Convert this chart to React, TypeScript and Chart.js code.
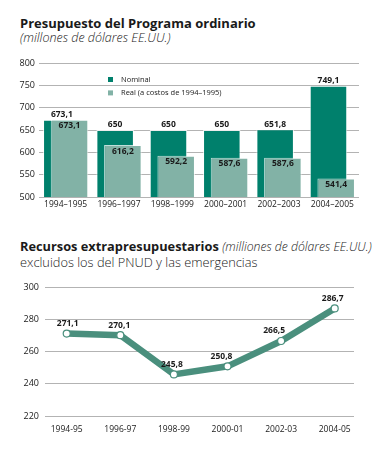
import React, { useEffect, useRef } from "react";
import { Chart, registerables } from "chart.js";

Chart.register(...registerables);

// ---- Data: Presupuesto del Programa ordinario ----
const budgetPeriods = ["1994–1995", "1996–1997", "1998–1999", "2000–2001", "2002–2003", "2004–2005"];
const nominalValues = [673.1, 650, 650, 650, 651.8, 749.1];
const realValues = [673.1, 616.2, 592.2, 587.6, 587.6, 541.4];
const budgetTickLabels = [500, 550, 600, 650, 700, 750, 800];
const budgetSeriesNames = ["Nominal", "Real (a costos de 1994–1995)"];

// ---- Data: Recursos extrapresupuestarios ----
const extraPeriods = ["1994-95", "1996-97", "1998-99", "2000-01", "2002-03", "2004-05"];
const extraValues = [271.1, 270.1, 245.8, 250.8, 266.5, 286.7];
const extraTickLabels = [220, 240, 260, 280, 300];

const FONT = "'Open Sans', 'Noto Sans', 'DejaVu Sans', sans-serif";
const NOMINAL = "#00806c";
const REAL = "#82b2a6";
const LINE = "#4a8f7d";
const GRID = "#b3b3b3";
const TEXT = "#1a1a1a";

const fmt = (v: number) => String(v).replace(".", ",");

// Draw the "Real" bars after (on top of) the "Nominal" bars, clipped to the plot area
const realOnTopPlugin = {
  id: "realOnTop",
  beforeDatasetDraw(_chart: any, args: any) {
    if (args.index === 1) return false;
  },
  afterDatasetsDraw(chart: any) {
    const ctx = chart.ctx;
    const a = chart.chartArea;
    ctx.save();
    ctx.beginPath();
    ctx.rect(a.left, a.top, a.right - a.left, a.bottom - a.top);
    ctx.clip();
    chart.getDatasetMeta(1).data.forEach((el: any) => el.draw(ctx));
    ctx.restore();
  },
};

const barLabelPlugin = {
  id: "barLabels",
  afterDatasetsDraw(chart: any) {
    const ctx = chart.ctx;
    ctx.save();
    ctx.font = `bold 8.5px ${FONT}`;
    ctx.fillStyle = TEXT;
    ctx.textAlign = "center";
    ctx.textBaseline = "middle";
    chart.data.datasets.forEach((ds: any, di: number) => {
      const meta = chart.getDatasetMeta(di);
      meta.data.forEach((bar: any, i: number) => {
        const y = di === 0 ? bar.y - 5 : bar.y + 6;
        ctx.fillText(fmt(ds.data[i]), bar.x, y);
      });
    });
    ctx.restore();
  },
};

const insideLegendPlugin = {
  id: "insideLegend",
  afterDatasetsDraw(chart: any) {
    const ctx = chart.ctx;
    const { left, top } = chart.chartArea;
    ctx.save();
    ctx.font = `7.5px ${FONT}`;
    ctx.textAlign = "left";
    ctx.textBaseline = "middle";
    chart.data.datasets.forEach((ds: any, di: number) => {
      const cy = top + 16.5 + di * 13.4;
      ctx.fillStyle = ds.backgroundColor;
      ctx.fillRect(left + 69, cy - 2.5, 5, 5);
      ctx.fillStyle = TEXT;
      ctx.fillText(ds.label, left + 82, cy);
    });
    ctx.restore();
  },
};

const lineLabelDx = [1, -1, -2, -6, -7, -2];
const lineLabelPlugin = {
  id: "lineLabels",
  afterDatasetsDraw(chart: any) {
    const ctx = chart.ctx;
    ctx.save();
    ctx.font = `bold 8.5px ${FONT}`;
    ctx.fillStyle = TEXT;
    ctx.textAlign = "center";
    ctx.textBaseline = "middle";
    const meta = chart.getDatasetMeta(0);
    meta.data.forEach((pt: any, i: number) => {
      ctx.fillText(fmt(extraValues[i]), pt.x + lineLabelDx[i], pt.y - 10);
    });
    ctx.restore();
  },
};

function BudgetChart() {
  const ref = useRef<HTMLCanvasElement | null>(null);
  useEffect(() => {
    if (!ref.current) return;
    const chart = new Chart(ref.current, {
      type: "bar",
      data: {
        labels: budgetPeriods,
        datasets: [
          {
            label: budgetSeriesNames[0],
            data: nominalValues,
            backgroundColor: NOMINAL,
            borderColor: "rgba(255,255,255,0.75)",
            borderWidth: 1,
          },
          {
            label: budgetSeriesNames[1],
            data: realValues,
            backgroundColor: REAL,
            borderColor: "rgba(255,255,255,0.75)",
            borderWidth: 1,
          },
        ],
      },
      options: {
        responsive: false,
        animation: false,
        layout: { padding: { left: 0, right: 13, top: 13, bottom: 0 } },
        datasets: { bar: { categoryPercentage: 0.289, barPercentage: 4.87 } } as any,
        plugins: { legend: { display: false }, tooltip: { enabled: false } },
        scales: {
          x: {
            grid: { display: false, drawTicks: false },
            border: { display: false },
            ticks: {
              font: { family: FONT, size: 8.5 },
              color: TEXT,
              padding: 2,
              maxRotation: 0,
              autoSkip: false,
            },
            afterFit: (s: any) => {
              s.height = 14;
            },
          },
          y: {
            min: 500,
            max: 800,
            ticks: {
              stepSize: 25,
              callback: (v: any) => (budgetTickLabels.includes(Number(v)) ? String(v) : ""),
              font: { family: FONT, size: 9 },
              color: TEXT,
              padding: 4,
            },
            grid: { color: GRID, lineWidth: 1, drawTicks: false },
            border: { display: false },
            afterFit: (s: any) => {
              s.width = 39;
            },
          },
        },
      },
      plugins: [realOnTopPlugin, barLabelPlugin, insideLegendPlugin],
    } as any);
    return () => chart.destroy();
  }, []);
  return (
    <canvas
      ref={ref}
      width={372}
      height={161}
      style={{ position: "absolute", left: 0, top: 50, width: 372, height: 161 }}
    />
  );
}

function ExtraChart() {
  const ref = useRef<HTMLCanvasElement | null>(null);
  useEffect(() => {
    if (!ref.current) return;
    const chart = new Chart(ref.current, {
      type: "line",
      data: {
        datasets: [
          {
            label: "Recursos extrapresupuestarios",
            data: extraValues.map((v, i) => ({ x: i, y: v })),
            borderColor: LINE,
            borderWidth: 6.5,
            pointRadius: 3.5,
            pointBackgroundColor: "#ffffff",
            pointBorderColor: LINE,
            pointBorderWidth: 1.2,
            tension: 0,
            fill: false,
          },
        ],
      },
      options: {
        responsive: false,
        animation: false,
        layout: { padding: { left: 0, right: 18, top: 17, bottom: 0 } },
        plugins: { legend: { display: false }, tooltip: { enabled: false } },
        scales: {
          x: {
            type: "linear",
            min: -0.405,
            max: 5.36,
            afterBuildTicks: (s: any) => {
              s.ticks = extraPeriods.map((_, i) => ({ value: i }));
            },
            ticks: {
              callback: (v: any) => extraPeriods[Math.round(Number(v))] ?? "",
              font: { family: FONT, size: 8.5 },
              color: TEXT,
              padding: 8,
              maxRotation: 0,
              autoSkip: false,
            },
            grid: { display: false, drawTicks: false },
            border: { display: false },
            afterFit: (s: any) => {
              s.height = 20;
            },
          },
          y: {
            min: 220,
            max: 300,
            afterBuildTicks: (s: any) => {
              s.ticks = extraTickLabels.map((v) => ({ value: v }));
            },
            ticks: {
              font: { family: FONT, size: 9 },
              color: TEXT,
              padding: 6,
            },
            grid: { color: GRID, lineWidth: 1, drawTicks: false },
            border: { display: false },
            afterFit: (s: any) => {
              s.width = 45;
            },
          },
        },
      },
      plugins: [lineLabelPlugin],
    } as any);
    return () => chart.destroy();
  }, []);
  return (
    <canvas
      ref={ref}
      width={372}
      height={166}
      style={{ position: "absolute", left: 0, top: 270, width: 372, height: 166 }}
    />
  );
}

const textBase: React.CSSProperties = {
  position: "absolute",
  left: 20,
  margin: 0,
  whiteSpace: "nowrap",
  fontFamily: FONT,
  color: TEXT,
  lineHeight: 1,
};

export default function App() {
  useEffect(() => {
    document.body.style.margin = "0";
  }, []);
  return (
    <div
      style={{
        position: "fixed",
        left: 0,
        top: 0,
        width: 372,
        height: 456,
        background: "#ffffff",
        overflow: "hidden",
      }}
    >
      <div style={{ ...textBase, top: 16.8, fontSize: 13, fontWeight: 700 }}>
        Presupuesto del Programa ordinario
      </div>
      <div style={{ ...textBase, top: 32.3, fontSize: 12.5, fontStyle: "italic", fontWeight: 300 }}>
        (millones de dólares EE.UU.)
      </div>
      <BudgetChart />
      <div style={{ ...textBase, top: 240, fontSize: 12.8 }}>
        <span style={{ fontWeight: 700 }}>Recursos extrapresupuestarios</span>{" "}
        <span style={{ fontStyle: "italic", fontWeight: 300, fontSize: 12.2 }}>
          (milliones de dólares EE.UU.)
        </span>
      </div>
      <div style={{ ...textBase, top: 256, fontSize: 12.8, fontWeight: 300 }}>
        excluidos los del PNUD y las emergencias
      </div>
      <ExtraChart />
    </div>
  );
}
